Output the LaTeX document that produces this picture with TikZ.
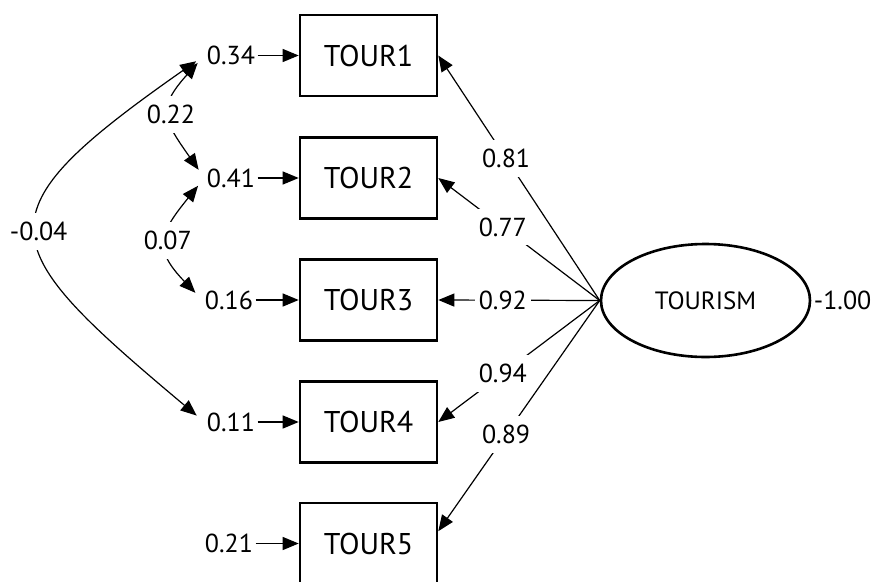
\documentclass[tikz,border=0pt]{standalone}
\usepackage{fontspec}
\setmainfont{PT Sans}
\usetikzlibrary{arrows}
\usetikzlibrary{arrows.meta}
\usetikzlibrary{shapes.geometric}

\tikzset{
  obs/.style={draw, line width=2.6pt, minimum width=137pt, minimum height=81pt, inner sep=0pt, font=\fontsize{30}{32}\selectfont},
  lat/.style={draw, ellipse, line width=2.6pt, minimum width=209pt, minimum height=113pt, inner sep=0pt, font=\fontsize{25}{28}\selectfont},
  err/.style={inner xsep=2pt, inner ysep=2pt, font=\fontsize{26}{28}\selectfont},
  coef/.style={fill=white, inner xsep=4pt, inner ysep=9pt, font=\fontsize{26}{28}\selectfont},
  cov/.style={<->, shorten <=10pt, shorten >=10pt}
}

\begin{document}
\begin{tikzpicture}[x=1pt, y=-1pt, line width=1.2pt, >={Triangle[length=16pt,width=13pt]}]
\useasboundingbox (0,0) rectangle (872,581);
\node[lat] (tourism) at (705.5,300.5) {TOURISM};
\node at (tourism.east) [anchor=west, err] (var) {-1.00};
\node[obs] (t1) at (368.5,55.5) {TOUR1};
\node[obs] (t2) at (368.5,178) {TOUR2};
\node[obs] (t3) at (368.5,300) {TOUR3};
\node[obs] (t4) at (368.5,422) {TOUR4};
\node[obs] (t5) at (368.5,543.5) {TOUR5};
\node[err] (e1) at (231,55.5) {0.34};
\node[err] (e2) at (231,178) {0.41};
\node[err] (e3) at (229,300) {0.16};
\node[err] (e4) at (231,422) {0.11};
\node[err] (e5) at (229,543.5) {0.21};
\draw[->] (e1) -- (t1);
\draw[->] (e2) -- (t2);
\draw[->] (e3) -- (t3);
\draw[->] (e4) -- (t4);
\draw[->] (e5) -- (t5);
\draw[->] (tourism.west) -- node[coef, pos=0.58] {0.81} (t1.east);
\draw[->] (tourism.west) -- node[coef, pos=0.6] {0.77} (t2.east);
\draw[->] (tourism.west) -- node[coef, pos=0.6] {0.92} (t3.east);
\draw[->] (tourism.west) -- node[coef, pos=0.6] {0.94} (t4.east);
\draw[->] (tourism.west) -- node[coef, pos=0.58] {0.89} (t5.10);
\draw[cov] (e1.west) to[out=228, in=125, looseness=1.5] node[coef] {0.22} (e2.west);
\draw[cov] (e2.west) to[out=231, in=134, looseness=1.5] node[coef] {0.07} (e3.west);
\draw[cov] (e1.west) to[out=215, in=140, looseness=1.95] node[coef] {-0.04} (e4.west);
\end{tikzpicture}
\end{document}
